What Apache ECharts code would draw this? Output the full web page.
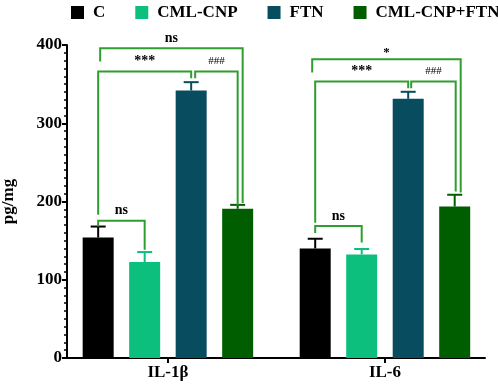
<!DOCTYPE html>
<html><head><meta charset="utf-8">
<script src="https://cdn.jsdelivr.net/npm/echarts@6/dist/echarts.min.js"></script>
<style>html,body{margin:0;padding:0;background:#fff}#c{width:498px;height:386px}</style>
</head><body><div id="c"></div>
<script>
// ---- data ----
const categories = ['IL-1β', 'IL-6'];
const seriesNames = ['C', 'CML-CNP', 'FTN', 'CML-CNP+FTN'];
const meanC = [154, 140];
const meanCML = [122.6, 132.3];
const meanFTN = [341.8, 331.2];
const meanCombo = [190.7, 193.6];
const errC = [14, 12.4];
const errCML = [12.8, 7];
const errFTN = [10.7, 9];
const errCombo = [5, 15];
const yTicks = [0, 100, 200, 300, 400];
// significance brackets: group, bar from/to, bracket level, leg end values, label
const bracketGroup = [0, 0, 0, 0, 1, 1, 1, 1];
const bracketFrom  = [0, 0, 2, 0, 0, 0, 2, 0];
const bracketTo    = [1, 2, 3, 3, 1, 2, 3, 3];
const bracketLevel = [175.3, 366, 366, 396, 168.8, 353.3, 353.3, 381.9];
const bracketFromEnd = [168, 183, 357.6, 378.8, 159.6, 172.8, 344.8, 364.8];
const bracketToEnd   = [138.3, 357.6, 195, 198, 147.6, 344.8, 212.8, 211.5];
const bracketLabel = ['ns', '***', '###', 'ns', 'ns', '***', '###', '*'];

// ---- style ----
const colors = ['#000000', '#0cbf7c', '#074c5f', '#005e00'];
const bracketColor = '#2f9e2f';
const SERIF = '"Liberation Serif","Times New Roman",serif';
const BAR_W = 31, BAR_GAP = 0.5;
const legDx = [[0,0],[0,0],[4,0],[2,5],[0,0],[0,0],[3,1],[-3,6]];
const labelFont = {'ns':'bold 14px ' + SERIF, '***':'bold 14px ' + SERIF, '###':'11px ' + SERIF, '*':'bold 13px ' + SERIF};

const means = [meanC, meanCML, meanFTN, meanCombo];
const errs = [errC, errCML, errFTN, errCombo];
function barOffset(i) { return (i - (seriesNames.length - 1) / 2) * BAR_W * (1 + BAR_GAP); }

const series = [];
seriesNames.forEach((name, i) => {
  series.push({
    name: name, type: 'bar', barWidth: BAR_W, barGap: (BAR_GAP * 100) + '%',
    itemStyle: {color: colors[i]},
    data: categories.map((c, g) => [g, means[i][g]])
  });
});
seriesNames.forEach((name, i) => {
  series.push({
    type: 'custom', silent: true, z: 3,
    data: categories.map((c, g) => [g, means[i][g], means[i][g] + errs[i][g]]),
    renderItem: function (params, api) {
      const base = api.coord([api.value(0), api.value(1)]);
      const top = api.coord([api.value(0), api.value(2)]);
      const x = base[0] + barOffset(i);
      const hw = 7.5;
      return {type: 'group', children: [
        {type: 'line', shape: {x1: x, y1: base[1], x2: x, y2: top[1]}, style: {stroke: colors[i], lineWidth: 2}},
        {type: 'line', shape: {x1: x - hw, y1: top[1], x2: x + hw, y2: top[1]}, style: {stroke: colors[i], lineWidth: 2}}
      ]};
    }
  });
});
series.push({
  type: 'custom', silent: true, z: 4, clip: false,
  data: bracketLevel.map((lv, k) => [bracketGroup[k], lv]),
  renderItem: function (params, api) {
    const k = params.dataIndex;
    const g = bracketGroup[k];
    const c = api.coord([g, bracketLevel[k]]);
    const yL = c[1];
    const x1 = c[0] + barOffset(bracketFrom[k]) + legDx[k][0];
    const x2 = c[0] + barOffset(bracketTo[k]) + legDx[k][1];
    const y1 = api.coord([g, bracketFromEnd[k]])[1];
    const y2 = api.coord([g, bracketToEnd[k]])[1];
    const lab = bracketLabel[k];
    return {type: 'group', children: [
      {type: 'polyline', shape: {points: [[x1, y1], [x1, yL], [x2, yL], [x2, y2]]},
       style: {stroke: bracketColor, lineWidth: 2, fill: null}},
      {type: 'text', style: {text: lab, x: (x1 + x2) / 2, y: yL - (lab === '*' ? 7 : 10),
       align: 'center', verticalAlign: 'middle', font: labelFont[lab], fill: '#000'}}
    ]};
  }
});

const chart = echarts.init(document.getElementById('c'), null, {renderer: 'canvas'});
chart.setOption({
  animation: false,
  backgroundColor: '#fff',
  legend: {
    data: seriesNames, left: 71, top: 4, width: 440, padding: 0, itemWidth: 13, itemHeight: 13, itemGap: 30,
    icon: 'rect',
    textStyle: {fontFamily: SERIF, fontWeight: 'bold', fontSize: 17, color: '#000', padding: [0, 0, 0, 4]}
  },
  grid: {left: 67, right: 13, top: 45, bottom: 28, containLabel: false, outerBoundsMode: 'none'},
  xAxis: {
    type: 'value', min: -0.465, max: 1.461,
    splitLine: {show: false},
    axisLine: {show: true, onZero: false, lineStyle: {color: '#000', width: 2}},
    axisTick: {show: true, length: 5, customValues: [0, 1], lineStyle: {color: '#000', width: 2}},
    axisLabel: {customValues: [0, 1], formatter: v => categories[Math.round(v)] || '',
      fontFamily: SERIF, fontWeight: 'bold', fontSize: 17, color: '#000', margin: 6}
  },
  yAxis: {
    type: 'value', min: yTicks[0], max: yTicks[yTicks.length - 1], interval: 100,
    name: 'pg/mg', nameLocation: 'middle', nameGap: 50, nameRotate: 90,
    nameTextStyle: {fontFamily: SERIF, fontWeight: 'bold', fontSize: 17, color: '#000'},
    splitLine: {show: false},
    axisLine: {show: true, onZero: false, lineStyle: {color: '#000', width: 2}},
    axisTick: {show: true, length: 5, lineStyle: {color: '#000', width: 2}},
    minorTick: {show: true, splitNumber: 10, length: 3, lineStyle: {color: '#000', width: 1.5}},
    axisLabel: {fontFamily: SERIF, fontWeight: 'bold', fontSize: 17, color: '#000', margin: 5}
  },
  series: series
});
</script></body></html>
